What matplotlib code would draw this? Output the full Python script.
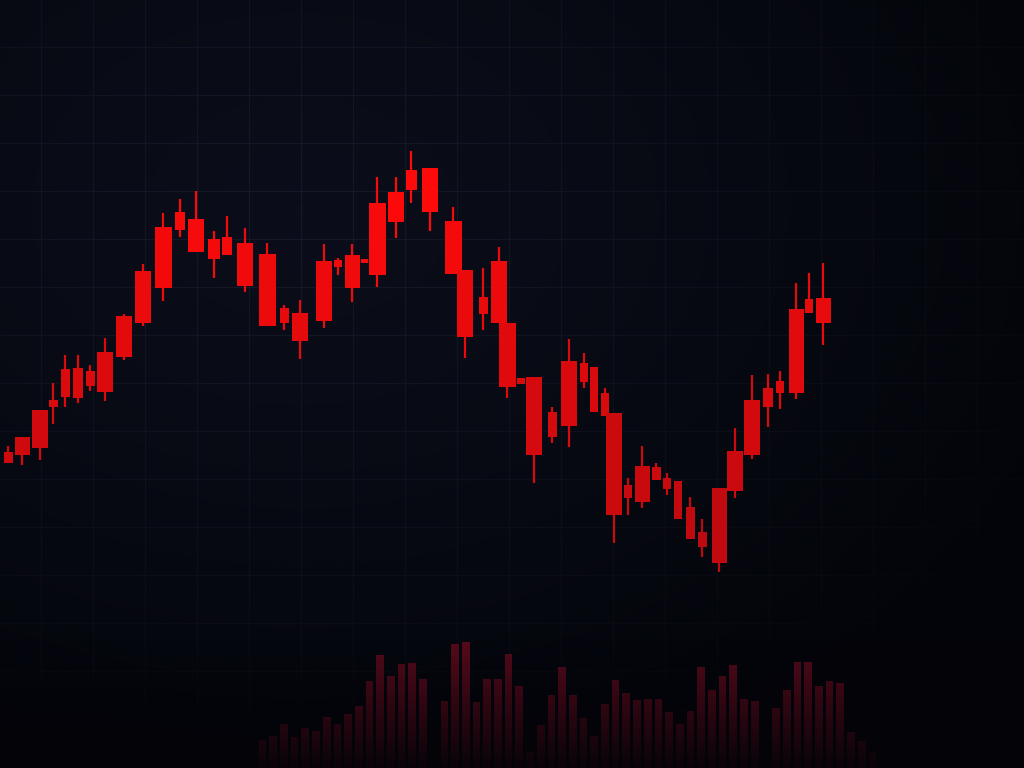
import numpy as np
import matplotlib
matplotlib.use("Agg")
import matplotlib.pyplot as plt
from matplotlib.colors import LinearSegmentedColormap, Normalize

# candle times (chart position) and OHLC prices
t = [8, 22, 40, 53, 65, 78, 90, 105, 124, 143, 163, 180, 196, 214, 227, 245, 267, 284, 300,
     324, 338, 352, 364, 377, 396, 411, 430, 453, 465, 483, 499, 507, 521, 534, 552, 569,
     584, 594, 605, 614, 628, 642, 656, 667, 678, 690, 702, 719, 735, 752, 768, 780, 796,
     809, 823]
open_ = [79.0, 82.75, 89.5, 92.0, 99.75, 100.0, 99.25, 104.0, 113.0, 124.25, 135.25, 139.0,
         137.25, 132.25, 132.75, 131.25, 128.5, 115.0, 113.75, 126.75, 127.0, 128.25, 127.25,
         141.25, 144.0, 149.5, 150.0, 136.75, 124.5, 117.75, 126.75, 111.25, 97.5, 97.75,
         89.0, 101.75, 101.25, 100.25, 93.75, 88.75, 70.75, 75.5, 75.25, 72.5, 71.75, 65.25,
         59.0, 70.0, 79.25, 92.0, 95.0, 96.75, 114.75, 117.25, 117.5]
high = [80.5, 82.75, 89.5, 96.25, 103.25, 103.25, 100.75, 107.5, 113.5, 126.0, 138.75, 142.25,
        144.25, 134.25, 138.0, 135.0, 131.25, 115.75, 117.0, 131.0, 127.5, 131.0, 127.25,
        147.75, 147.75, 154.25, 150.0, 140.25, 124.5, 125.0, 130.25, 111.25, 97.5, 97.75,
        90.25, 107.25, 103.75, 100.25, 95.0, 88.75, 72.5, 80.5, 76.25, 73.75, 71.75, 67.75,
        62.25, 70.0, 85.0, 98.25, 98.5, 99.25, 121.25, 123.75, 126.25]
low = [76.25, 75.75, 77.0, 86.0, 90.25, 91.25, 94.25, 91.75, 102.0, 110.5, 116.75, 132.75,
       129.0, 122.5, 128.25, 119.0, 110.5, 109.5, 102.25, 110.0, 123.25, 116.5, 126.25,
       120.25, 132.5, 141.25, 134.25, 123.5, 102.5, 109.5, 111.25, 92.5, 96.0, 71.25,
       81.25, 80.25, 95.0, 89.0, 88.0, 56.25, 63.25, 65.0, 72.0, 68.25, 62.25, 57.25,
       52.75, 49.0, 67.5, 77.25, 85.25, 89.75, 92.25, 113.75, 105.75]
close = [76.25, 78.25, 80.0, 90.25, 92.75, 92.5, 95.5, 94.0, 102.75, 111.25, 120.0, 134.5,
         129.0, 127.25, 128.25, 120.5, 110.5, 111.25, 106.75, 111.75, 125.25, 120.0, 126.25,
         123.25, 136.5, 144.5, 139.0, 123.5, 107.75, 113.5, 111.25, 95.25, 96.0, 78.25,
         82.75, 85.5, 96.5, 89.0, 88.0, 63.25, 67.5, 66.5, 72.0, 69.75, 62.25, 57.25,
         55.25, 51.25, 69.25, 78.25, 90.25, 93.75, 93.75, 113.75, 111.25]

# volume bars (0 = no bar)
volume = [28, 32, 44, 31, 40, 37, 51, 44, 54, 62, 87, 113, 92, 104, 105, 89, 0,
          67, 124, 126, 66, 89, 89, 114, 82, 16, 43, 73, 101, 73, 50, 32, 64, 88, 75,
          68, 69, 69, 56, 44, 57, 101, 78, 92, 103, 69, 67, 0,
          60, 78, 106, 106, 82, 87, 85, 36, 27, 15]

# body widths, chart units
body_w = [9, 15, 16, 9, 9, 10, 9, 16, 16, 16, 17, 10, 16, 12, 10, 16, 17, 9, 16, 16, 8, 15,
          7, 17, 16, 11, 16, 17, 16, 9, 16, 17, 8, 16, 9, 16, 8, 8, 8, 16, 8, 15, 9, 8, 8,
          9, 9, 15, 16, 16, 10, 8, 15, 8, 15]

BG = "#0b0e1a"

fig = plt.figure(figsize=(10.24, 7.68), dpi=100, facecolor=BG)
ax = fig.add_axes([0, 0, 1, 1])
ax.set_xlim(0, 1024)
ax.set_ylim(0, 192)
ax.set_facecolor(BG)

# grid
ax.set_xticks(np.arange(41, 1024, 52))
ax.set_yticks(np.arange(180.25, 0, -12))
ax.grid(True, color="#1c2234", lw=0.9, alpha=0.6, zorder=1)
ax.tick_params(length=0, labelbottom=False, labelleft=False)
for s in ax.spines.values():
    s.set_visible(False)

# dark vignette over bg + grid: lighter upper-left, darker to right and bottom
yy, xx = np.mgrid[0:192:200j, 0:1024:400j]
d = np.sqrt(((xx - 300) / 820) ** 2 + ((yy - 140) / 150) ** 2)
d = np.clip(d, 0, 1) ** 1.2
shade = np.zeros((200, 400, 4))
shade[..., :3] = np.array([2, 3, 7]) / 255
shade[..., 3] = 0.85 * d
ax.imshow(shade, extent=(0, 1024, 0, 192), origin="lower", aspect="auto", zorder=2)

# candles
cmap = LinearSegmentedColormap.from_list("reds", ["#b80a10", "#ff0a0a"])
norm = Normalize(50, 145)
for i in range(len(t)):
    mid = (open_[i] + close[i]) / 2
    col = cmap(norm(mid))
    ax.vlines(t[i], low[i], high[i], color=col, lw=1.6, zorder=3)
    bot = min(open_[i], close[i])
    h = max(abs(open_[i] - close[i]), 0.6)
    ax.bar(t[i], h, bottom=bot, width=body_w[i], color=col, lw=0, zorder=4)

# volume
vax = fig.add_axes([0, 0, 1, 1])
vax.set_xlim(-24.53, 71.17)
vax.set_ylim(0, 768)
vax.axis("off")
vax.patch.set_visible(False)
vx = np.arange(len(volume))
vax.bar(vx, volume, width=0.72, color="#560a1a", lw=0, zorder=2)

# fade volume into the bottom
fade = np.linspace(0.92, 0.0, 100)[:, None] * np.ones((1, 4))
rgba = np.zeros((100, 4, 4))
rgba[..., :3] = np.array([3, 3, 8]) / 255
rgba[..., 3] = fade
vax.imshow(rgba, extent=(-24.53, 71.17, 0, 130), origin="lower", aspect="auto", zorder=3)

fig.savefig("out.png", dpi=100, facecolor=BG)
